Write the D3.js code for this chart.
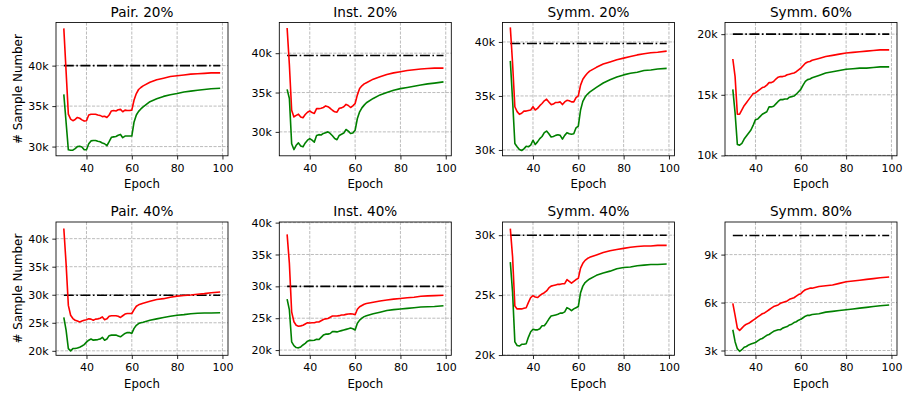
<!DOCTYPE html>
<html>
<head>
<meta charset="utf-8">
<script src="https://cdn.jsdelivr.net/npm/d3@7"></script>
<style>
  body { margin: 0; background: #fff; }
  svg text { font-family: "DejaVu Sans", sans-serif; fill: #000; }
</style>
</head>
<body>
<div id="chart"></div>
<script>
// epochs at which values were read (every epoch up to 65, sparser afterwards)
const epochs = [30,31,32,33,34,35,36,37,38,39,40,41,42,43,44,45,46,47,48,49,50,51,52,53,54,55,56,57,58,59,60,61,62,63,64,65,
  68,71,74,77,80,83,86,89,92,95,99];

const titles = ["Pair. 20%", "Inst. 20%", "Symm. 20%", "Symm. 60%", "Pair. 40%", "Inst. 40%", "Symm. 40%", "Symm. 80%"];

// dash-dot reference level per panel (thousands)
const targets = [40, 39.7, 39.85, 20, 29.9, 30, 30, 10.2];

// y tick values per panel (thousands)
const yTicks = [
  [30, 35, 40], [30, 35, 40], [30, 35, 40], [10, 15, 20],
  [20, 25, 30, 35, 40], [20, 25, 30, 35, 40], [20, 25, 30], [3, 6, 9]
];
const yDomains = [
  [28.86, 45.33], [26.96, 43.9], [29.46, 41.8], [9.97, 20.96],
  [19.2, 42.97], [19.18, 40.1], [19.98, 31.1], [2.7, 11.04]
];
const xTicks = [40, 60, 80, 100];

// sample numbers in thousands, red series
const pair20Red = [44.6,39.3,34.0,33.4,33.2,33.35,33.6,33.5,33.3,33.15,33.2,33.9,34.0,34.0,34.0,33.9,33.85,33.7,33.75,33.6,33.9,34.4,34.45,34.4,34.55,34.6,34.3,34.5,34.45,34.45,34.5,35.75,36.55,37.05,37.3,37.5,
  37.95,38.25,38.45,38.65,38.75,38.85,38.95,39.0,39.05,39.1,39.1];
const inst20Red = [43.2,38.5,32.75,31.9,32.1,32.25,31.9,31.8,32.2,32.5,32.65,32.45,32.35,32.95,32.95,33.0,33.1,33.3,33.2,33.0,32.75,32.55,32.5,33.0,33.05,33.2,33.5,33.35,33.1,33.3,33.6,34.7,35.5,35.85,36.1,36.25,
  36.7,37.0,37.3,37.5,37.65,37.8,37.9,38.0,38.05,38.1,38.1];
const symm20Red = [41.35,38.0,34.0,33.55,33.3,33.4,33.6,33.6,33.65,33.7,34.0,33.7,33.85,34.1,34.3,34.55,34.7,34.45,34.2,34.25,34.4,34.4,34.45,34.2,34.45,34.6,34.55,34.45,34.45,34.85,35.0,36.0,36.55,36.85,37.1,37.3,
  37.65,37.95,38.15,38.35,38.5,38.65,38.8,38.9,39.0,39.05,39.15];
const symm60Red = [17.95,16.5,13.4,13.4,13.75,14.1,14.35,14.6,14.85,15.1,15.15,15.3,15.45,15.6,15.65,15.8,16.0,16.0,16.1,16.3,16.45,16.5,16.5,16.55,16.65,16.7,16.75,16.8,16.9,17.05,17.2,17.4,17.6,17.7,17.75,17.85,
  18.0,18.15,18.25,18.35,18.45,18.5,18.55,18.6,18.65,18.7,18.7];
const pair40Red = [41.8,35.55,28.1,26.35,25.75,25.45,25.3,25.15,25.3,25.45,25.55,25.7,25.65,25.45,25.65,25.7,25.8,26.05,25.55,25.7,26.15,26.25,26.25,26.25,26.15,25.95,26.25,26.55,26.65,26.65,26.65,27.35,27.95,28.2,28.35,28.5,
  28.85,29.15,29.3,29.55,29.75,29.85,29.95,30.1,30.2,30.35,30.5];
const inst40Red = [38.15,33.6,26.0,24.45,23.9,23.75,23.8,23.9,24.1,24.3,24.25,24.3,24.3,24.4,24.4,24.6,24.8,24.9,24.95,25.15,25.35,25.35,25.35,25.4,25.5,25.5,25.6,25.65,25.7,25.65,25.55,26.4,26.8,27.0,27.2,27.3,
  27.5,27.7,27.85,28.0,28.1,28.2,28.3,28.45,28.5,28.55,28.6];
const symm40Red = [30.55,28.2,24.1,23.85,23.85,23.85,23.9,23.95,24.4,24.8,24.95,24.85,24.8,24.95,25.1,25.2,25.35,25.6,25.75,25.8,25.85,25.9,25.9,25.95,25.95,26.3,26.15,26.0,26.15,26.3,26.4,27.25,27.65,27.9,28.05,28.15,
  28.35,28.55,28.7,28.8,28.9,29.0,29.05,29.1,29.1,29.15,29.15];
const symm80Red = [5.95,5.2,4.4,4.25,4.4,4.55,4.65,4.7,4.8,4.9,5.0,5.1,5.2,5.3,5.35,5.45,5.55,5.65,5.75,5.8,5.85,5.95,6.0,6.05,6.1,6.2,6.25,6.3,6.4,6.5,6.55,6.7,6.8,6.85,6.9,6.9,
  7.0,7.05,7.1,7.2,7.3,7.35,7.4,7.45,7.5,7.55,7.6];

// green series
const pair20Green = [36.45,33.0,29.6,29.55,29.55,29.75,30.0,30.05,29.95,29.6,29.6,30.35,30.7,30.75,30.75,30.65,30.6,30.45,30.35,30.1,30.6,31.15,31.2,31.25,31.4,31.5,31.1,31.3,31.3,31.3,31.3,33.05,33.9,34.35,34.65,34.9,
  35.55,35.9,36.2,36.4,36.55,36.75,36.85,36.95,37.05,37.15,37.2];
const inst20Green = [35.4,34.25,28.5,27.75,28.3,28.6,28.2,28.1,28.6,28.95,29.15,28.95,28.7,29.55,29.65,29.6,29.8,29.9,30.0,29.8,29.5,29.15,29.0,29.55,29.7,29.85,30.3,30.1,29.8,29.85,30.2,31.7,32.55,33.05,33.4,33.7,
  34.25,34.7,35.0,35.3,35.5,35.65,35.8,35.95,36.1,36.2,36.35];
const symm20Green = [38.25,34.6,30.6,30.3,30.05,29.95,30.1,30.35,30.3,30.45,30.9,30.5,30.75,31.05,31.25,31.6,31.75,31.5,31.2,31.25,31.35,31.4,31.35,31.0,31.35,31.6,31.5,31.45,31.5,32.05,32.2,33.7,34.5,34.9,35.15,35.35,
  35.8,36.2,36.5,36.75,36.95,37.1,37.2,37.35,37.4,37.5,37.55];
const symm60Green = [15.45,13.5,10.9,10.85,11.0,11.35,11.6,11.85,12.1,12.5,12.95,13.0,13.2,13.4,13.5,13.6,14.0,14.0,14.05,14.25,14.45,14.6,14.6,14.65,14.65,14.8,14.85,14.9,15.05,15.25,15.45,15.8,16.1,16.25,16.3,16.4,
  16.6,16.8,16.9,17.0,17.1,17.15,17.2,17.2,17.25,17.3,17.3];
const pair40Green = [25.95,23.7,20.4,20.0,20.4,20.4,20.5,20.65,20.85,21.1,21.55,21.9,22.1,21.9,21.95,22.0,22.1,22.4,21.9,22.1,22.7,22.8,22.8,22.8,22.65,22.5,22.8,23.1,23.25,23.25,23.1,24.0,24.55,24.85,25.0,25.1,
  25.45,25.7,25.95,26.15,26.35,26.45,26.6,26.7,26.75,26.75,26.8];
const inst40Green = [28.0,26.3,21.3,20.7,20.4,20.35,20.5,20.8,21.05,21.4,21.55,21.5,21.55,21.7,21.65,22.0,22.35,22.5,22.5,22.6,22.9,22.9,22.85,22.95,23.05,23.15,23.25,23.35,23.45,23.35,23.15,24.2,24.7,25.0,25.25,25.4,
  25.7,25.95,26.2,26.35,26.45,26.55,26.65,26.75,26.8,26.85,26.95];
const symm40Green = [27.75,25.2,21.1,20.8,20.75,20.9,20.9,20.95,21.5,21.95,22.15,22.1,22.1,22.2,22.45,22.45,22.7,23.0,23.25,23.3,23.35,23.4,23.5,23.5,23.6,23.95,23.85,23.7,23.85,23.95,24.05,25.2,25.75,26.05,26.2,26.35,
  26.65,26.85,27.0,27.2,27.3,27.35,27.45,27.5,27.55,27.55,27.6];
const symm80Green = [4.3,3.55,3.1,2.95,3.05,3.2,3.25,3.35,3.4,3.45,3.5,3.6,3.7,3.75,3.85,3.95,4.0,4.1,4.2,4.25,4.3,4.3,4.4,4.45,4.5,4.6,4.65,4.75,4.8,4.9,4.95,5.05,5.15,5.2,5.2,5.25,
  5.3,5.4,5.45,5.5,5.55,5.6,5.65,5.7,5.75,5.8,5.85];

const redSeries = [pair20Red, inst20Red, symm20Red, symm60Red, pair40Red, inst40Red, symm40Red, symm80Red];
const greenSeries = [pair20Green, inst20Green, symm20Green, symm60Green, pair40Green, inst40Green, symm40Green, symm80Green];

// layout
const W = 904, H = 394;
const colLeft = [56, 279.3, 502.5, 725];
const rowTop = [22.5, 222];
const pw = 172, ph = 133.3;

const svg = d3.select("#chart")
  .append("svg")
  .attr("width", W)
  .attr("height", H);

const x = d3.scaleLinear()
  .domain([26.55, 102.45])
  .range([0, pw]);

titles.forEach(function (title, i) {
  const col = i % 4, row = Math.floor(i / 4);
  const g = svg.append("g")
    .attr("transform", `translate(${colLeft[col]},${rowTop[row]})`);

  const y = d3.scaleLinear()
    .domain(yDomains[i])
    .range([ph, 0]);

  // grid
  g.append("g")
    .selectAll("line.gx")
    .data(xTicks)
    .join("line")
    .attr("x1", d => x(d)).attr("x2", d => x(d))
    .attr("y1", 0).attr("y2", ph)
    .attr("stroke", "#b0b0b0")
    .attr("stroke-width", 0.85)
    .attr("stroke-dasharray", "3.1,1.4");
  g.append("g")
    .selectAll("line.gy")
    .data(yTicks[i])
    .join("line")
    .attr("x1", 0).attr("x2", pw)
    .attr("y1", d => y(d)).attr("y2", d => y(d))
    .attr("stroke", "#b0b0b0")
    .attr("stroke-width", 0.85)
    .attr("stroke-dasharray", "3.1,1.4");

  // reference dash-dot line
  g.append("line")
    .attr("x1", x(epochs[0]))
    .attr("x2", x(epochs[epochs.length - 1]))
    .attr("y1", y(targets[i]))
    .attr("y2", y(targets[i]))
    .attr("stroke", "#000")
    .attr("stroke-width", 1.6)
    .attr("stroke-dasharray", "10,2.5,1.6,2.5");

  const line = d3.line()
    .x((d, k) => x(epochs[k]))
    .y(d => y(d));

  g.append("path")
    .datum(redSeries[i])
    .attr("fill", "none")
    .attr("stroke", "#ff0000")
    .attr("stroke-width", 1.6)
    .attr("stroke-linejoin", "round")
    .attr("d", line);

  g.append("path")
    .datum(greenSeries[i])
    .attr("fill", "none")
    .attr("stroke", "#008000")
    .attr("stroke-width", 1.6)
    .attr("stroke-linejoin", "round")
    .attr("d", line);

  // axes
  const xAxis = g.append("g")
    .attr("transform", `translate(0,${ph})`)
    .call(d3.axisBottom(x).tickValues(xTicks).tickSize(3.7).tickPadding(4.2).tickSizeOuter(0));
  const yAxis = g.append("g")
    .call(d3.axisLeft(y).tickValues(yTicks[i]).tickFormat(d => d + "k").tickSize(3.7).tickPadding(3.7).tickSizeOuter(0));
  [xAxis, yAxis].forEach(a => {
    a.select(".domain").remove();
    a.selectAll("line").attr("stroke", "#000").attr("stroke-width", 0.85);
    a.selectAll("text").style("font-size", "11px").attr("fill", "#000");
  });

  // frame
  g.append("rect")
    .attr("width", pw)
    .attr("height", ph)
    .attr("fill", "none")
    .attr("stroke", "#000")
    .attr("stroke-width", 0.85);

  // title
  g.append("text")
    .attr("x", pw / 2)
    .attr("y", -5.6)
    .attr("text-anchor", "middle")
    .style("font-size", "13.6px")
    .text(title);

  // x label
  g.append("text")
    .attr("x", pw / 2)
    .attr("y", ph + 32.3)
    .attr("text-anchor", "middle")
    .style("font-size", "11.7px")
    .text("Epoch");

  // y label on first column only
  if (col === 0) {
    g.append("text")
      .attr("transform", `translate(${-34.5},${ph / 2}) rotate(-90)`)
      .attr("text-anchor", "middle")
      .style("font-size", "11.9px")
      .text("# Sample Number");
  }
});
</script>
</body>
</html>
